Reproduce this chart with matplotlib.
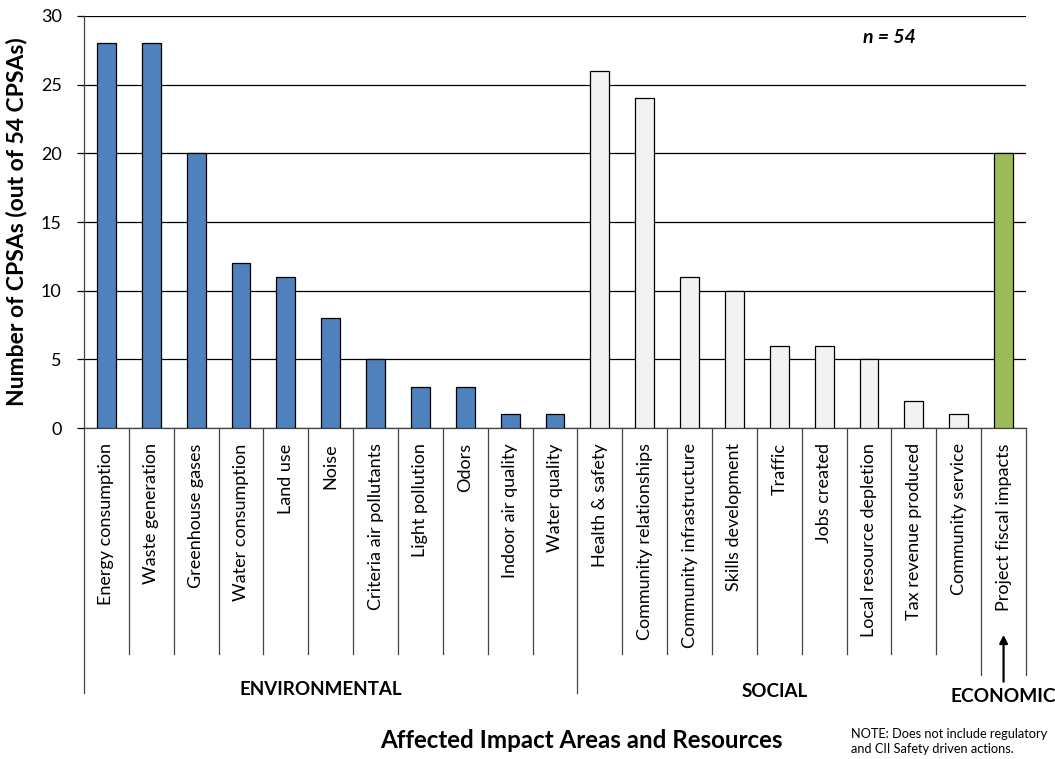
import matplotlib.pyplot as plt
import numpy as np

# counts of CPSAs per affected impact area
env_labels = ["Energy consumption", "Waste generation", "Greenhouse gases",
              "Water consumption", "Land use", "Noise", "Criteria air pollutants",
              "Light pollution", "Odors", "Indoor air quality", "Water quality"]
env_values = [28, 28, 20, 12, 11, 8, 5, 3, 3, 1, 1]

soc_labels = ["Health & safety", "Community relationships", "Community infrastructure",
              "Skills development", "Traffic", "Jobs created", "Local resource depletion",
              "Tax revenue produced", "Community service"]
soc_values = [26, 24, 11, 10, 6, 6, 5, 2, 1]

eco_labels = ["Project fiscal impacts"]
eco_values = [20]

plt.rcParams['font.family'] = ['Lato', 'DejaVu Sans']

labels = env_labels + soc_labels + eco_labels
values = env_values + soc_values + eco_values
colors = (["#4F81BD"] * len(env_values) + ["#F2F2F2"] * len(soc_values)
          + ["#9BBB59"] * len(eco_values))
n = len(labels)
x = np.arange(n) + 0.5

fig = plt.figure(figsize=(10.55, 7.59), dpi=100)
ax = fig.add_axes([0.0796, 0.436, 0.8929, 0.543])

ax.bar(x, values, width=0.42, color=colors, edgecolor="black", linewidth=0.9, zorder=3)

ax.set_xlim(0, n)
ax.set_ylim(0, 30)
ax.set_yticks(range(0, 31, 5))
ax.tick_params(axis="y", labelsize=13, length=5, width=0.9, pad=11)
ax.yaxis.grid(True, color="black", linewidth=0.9, zorder=0)
ax.set_axisbelow(True)
for side in ("top", "right"):
    ax.spines[side].set_visible(False)
ax.spines["left"].set_linewidth(0.9)
ax.spines["bottom"].set_linewidth(0.9)
ax.spines["left"].set_color("#444444")
ax.spines["bottom"].set_color("#444444")

ax.set_xticks(x)
ax.set_xticklabels(labels, rotation=90, fontsize=13, va="top")
ax.tick_params(axis="x", length=0, pad=11)

ax.set_ylabel("Number of CPSAs (out of 54 CPSAs)", fontsize=16.5, fontweight="bold", labelpad=10)

# category separators below the axis
trans = ax.get_xaxis_transform()
n_env, n_soc = len(env_values), len(soc_values)
for b in range(1, n):
    if b == n_env:
        y_end = -0.643
    elif b == n_env + n_soc:
        y_end = -0.5995
    else:
        y_end = -0.5485
    ax.plot([b, b], [0, y_end], transform=trans, color="#444444", lw=0.9, clip_on=False)
ax.plot([0, 0], [0, -0.643], transform=trans, color="#444444", lw=0.9, clip_on=False)
ax.plot([n, n], [0, -0.5995], transform=trans, color="#444444", lw=0.9, clip_on=False)

# group labels
ax.text(5.28, -0.635, "ENVIRONMENTAL", transform=trans, ha="center", va="center",
        fontsize=13.5, fontweight="bold")
ax.text(15.4, -0.64, "SOCIAL", transform=trans, ha="center", va="center",
        fontsize=13.5, fontweight="bold")
ax.text(n - 0.5, -0.652, "ECONOMIC", transform=trans, ha="center", va="center",
        fontsize=13.8, fontweight="bold")
ax.annotate("", xy=(n - 0.5, -0.495), xytext=(n - 0.5, -0.622), xycoords=trans,
            textcoords=trans, arrowprops=dict(arrowstyle="-|>", color="black", lw=1.6,
                                              mutation_scale=12))

fig.text(0.551, 0.024, "Affected Impact Areas and Resources", ha="center", va="center",
         fontsize=17.4, fontweight="bold")
fig.text(0.807, 0.023, "NOTE: Does not include regulatory\nand CII Safety driven actions.",
         ha="left", va="center", fontsize=9.2, linespacing=1.3)
ax.text(0.855, 0.947, "n = 54", transform=ax.transAxes, ha="center", va="center",
        fontsize=14, fontweight="bold", style="italic")

fig.savefig("out.png", dpi=100)
